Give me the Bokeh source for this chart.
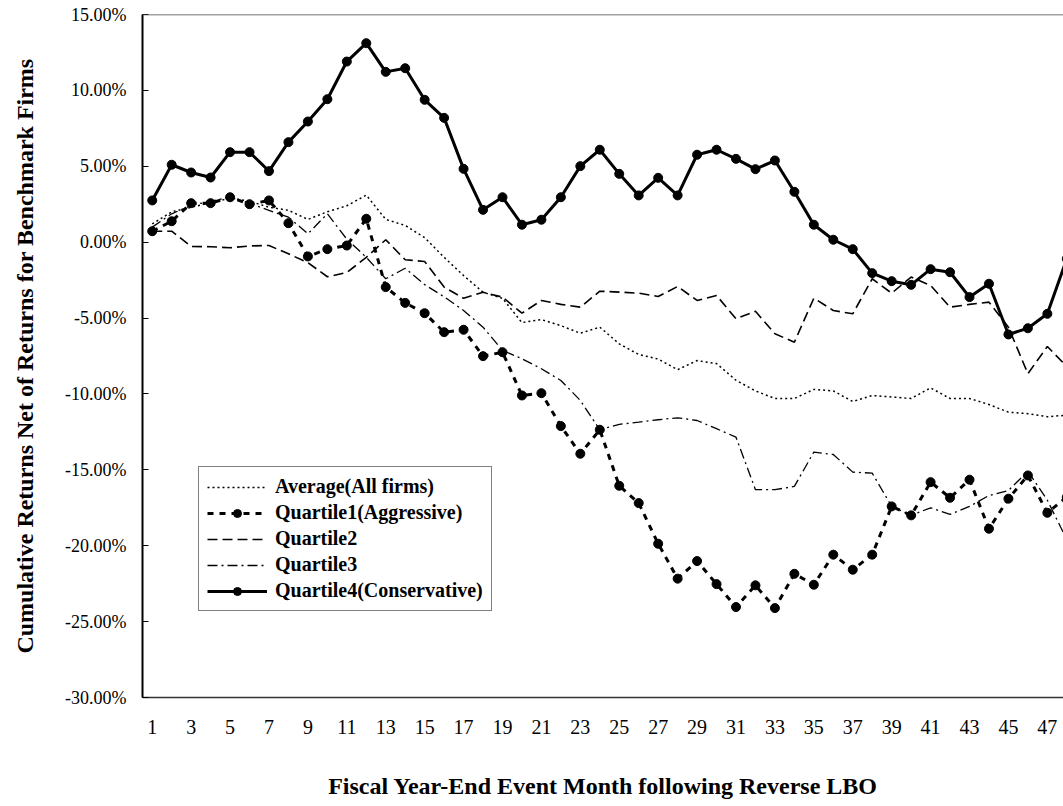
from bokeh.plotting import figure
from bokeh.models import (FixedTicker, PrintfTickFormatter, Span, Legend, LegendItem, Range1d)
from bokeh.embed import file_html
from bokeh.resources import INLINE

months = list(range(1, 49))
x_ticks = list(range(1, 48, 2))
y_ticks = list(range(-30, 16, 5))

average_all = [1.2, 2.0, 2.3, 2.6, 2.9, 2.7, 2.3, 2.1, 1.5, 2.0, 2.4, 3.1, 1.5, 1.1, 0.3, -1.0,
               -2.2, -3.3, -3.7, -5.3, -5.1, -5.5, -6.0, -5.6, -6.7, -7.4, -7.7, -8.4, -7.8, -8.0,
               -9.1, -9.8, -10.3, -10.3, -9.7, -9.8, -10.5, -10.1, -10.2, -10.3, -9.6, -10.3,
               -10.3, -10.7, -11.2, -11.3, -11.5, -11.4]
quartile1 = [0.72, 1.38, 2.57, 2.57, 2.96, 2.5, 2.75, 1.25, -0.94, -0.46, -0.22, 1.54, -2.96,
             -4.0, -4.68, -5.93, -5.77, -7.51, -7.25, -10.1, -9.95, -12.12, -13.94, -12.36,
             -16.05, -17.19, -19.87, -22.17, -21.01, -22.53, -24.04, -22.61, -24.11, -21.85,
             -22.57, -20.59, -21.58, -20.59, -17.41, -18.0, -15.81, -16.84, -15.65, -18.88,
             -16.9, -15.37, -17.83, -16.8]
quartile2 = [0.72, 0.72, -0.28, -0.3, -0.37, -0.25, -0.22, -0.77, -1.35, -2.28, -2.0, -1.0, 0.16,
             -1.16, -1.27, -2.96, -3.7, -3.3, -3.62, -4.68, -3.84, -4.1, -4.28, -3.23, -3.29,
             -3.36, -3.58, -2.92, -3.84, -3.51, -5.05, -4.55, -6.04, -6.59, -3.69, -4.5, -4.72,
             -2.41, -3.36, -2.3, -2.85, -4.28, -4.1, -3.95, -5.6, -8.67, -6.87, -8.2]
quartile3 = [0.99, 1.87, 2.42, 2.7, 2.96, 2.57, 2.09, 1.65, 0.55, 1.87, 0.2, -1.0, -2.41, -1.72,
             -2.8, -3.6, -4.5, -5.6, -7.13, -7.68, -8.34, -9.11, -10.43, -12.36, -12.0, -11.86,
             -11.7, -11.57, -11.75, -12.29, -12.85, -16.31, -16.31, -16.09, -13.83, -13.99,
             -15.15, -15.22, -17.41, -18.0, -17.5, -17.94, -17.41, -16.69, -16.36, -15.09,
             -17.0, -19.6]
quartile4 = [2.75, 5.1, 4.59, 4.26, 5.93, 5.93, 4.68, 6.59, 7.95, 9.42, 11.9, 13.11, 11.22,
             11.46, 9.38, 8.19, 4.83, 2.13, 2.96, 1.15, 1.48, 2.96, 5.01, 6.09, 4.5, 3.08, 4.24,
             3.08, 5.76, 6.09, 5.49, 4.81, 5.38, 3.32, 1.15, 0.16, -0.46, -2.04, -2.57, -2.81,
             -1.78, -1.98, -3.62, -2.74, -6.08, -5.67, -4.72, -1.1]

labels = ["Average(All firms)", "Quartile1(Aggressive)", "Quartile2", "Quartile3",
          "Quartile4(Conservative)"]

SERIF = "Liberation Serif"

p = figure(frame_width=921, frame_height=683, output_backend="svg", toolbar_location=None,
           x_range=Range1d(0.5, 47.83), y_range=Range1d(-30, 15),
           min_border_left=142, min_border_right=0, min_border_top=14, min_border_bottom=20)
p.background_fill_color = "white"
p.border_fill_color = "white"
p.outline_line_color = None
p.xgrid.visible = False
p.ygrid.visible = False

# axes
p.xaxis.ticker = FixedTicker(ticks=x_ticks)
p.xaxis.major_tick_line_color = None
p.xaxis.minor_tick_line_color = None
p.xaxis.axis_line_color = "#333333"
p.xaxis.axis_line_width = 1.5
p.xaxis.major_label_standoff = 16
p.xaxis.major_label_text_font = SERIF
p.xaxis.major_label_text_font_size = "20px"
p.xaxis.major_label_text_color = "black"
p.xaxis.axis_label = "Fiscal Year-End Event Month following Reverse LBO"
p.xaxis.axis_label_text_font = SERIF
p.xaxis.axis_label_text_font_size = "24px"
p.xaxis.axis_label_text_font_style = "bold"
p.xaxis.axis_label_text_color = "black"
p.xaxis.axis_label_standoff = 36

p.yaxis.ticker = FixedTicker(ticks=y_ticks)
p.yaxis.formatter = PrintfTickFormatter(format="%.2f%%")
p.yaxis.major_tick_in = 6
p.yaxis.major_tick_out = 0
p.yaxis.major_tick_line_color = "black"
p.yaxis.minor_tick_line_color = None
p.yaxis.axis_line_color = "black"
p.yaxis.axis_line_width = 2
p.yaxis.major_label_standoff = 16
p.yaxis.major_label_text_font = SERIF
p.yaxis.major_label_text_font_size = "18px"
p.yaxis.major_label_text_color = "black"
p.yaxis.axis_label = "Cumulative Returns Net of Returns for Benchmark Firms"
p.yaxis.axis_label_text_font = SERIF
p.yaxis.axis_label_text_font_size = "24px"
p.yaxis.axis_label_text_font_style = "bold"
p.yaxis.axis_label_text_color = "black"
p.yaxis.axis_label_standoff = 24

p.add_layout(Span(location=15, dimension="width", line_color="#444444", line_width=1.5))

r_avg = p.line(months, average_all, line_color="black", line_width=1.5, line_dash="2 3")
r_q1 = p.line(months, quartile1, line_color="black", line_width=3, line_dash="6 6")
r_q1m = p.scatter(months, quartile1, size=9, fill_color="black", line_color="black")
r_q2 = p.line(months, quartile2, line_color="black", line_width=1.6, line_dash="10 5")
r_q3 = p.line(months, quartile3, line_color="black", line_width=1.3, line_dash="10 4 2 4")
r_q4 = p.line(months, quartile4, line_color="black", line_width=3)
r_q4m = p.scatter(months, quartile4, size=9, fill_color="black", line_color="black")

legend = Legend(items=[
    LegendItem(label=labels[0], renderers=[r_avg]),
    LegendItem(label=labels[1], renderers=[r_q1, r_q1m]),
    LegendItem(label=labels[2], renderers=[r_q2]),
    LegendItem(label=labels[3], renderers=[r_q3]),
    LegendItem(label=labels[4], renderers=[r_q4, r_q4m]),
], location=(56, 86))
legend.label_text_font = SERIF
legend.label_text_font_size = "20px"
legend.label_text_font_style = "bold"
legend.label_text_color = "black"
legend.glyph_width = 60
legend.glyph_height = 20
legend.label_height = 20
legend.label_standoff = 8
legend.spacing = 3
legend.padding = 8
legend.margin = 0
legend.border_line_color = "black"
legend.border_line_width = 1
legend.background_fill_color = "white"
legend.background_fill_alpha = 1
p.add_layout(legend, "center")

open("out.html", "w").write(file_html(p, INLINE))
